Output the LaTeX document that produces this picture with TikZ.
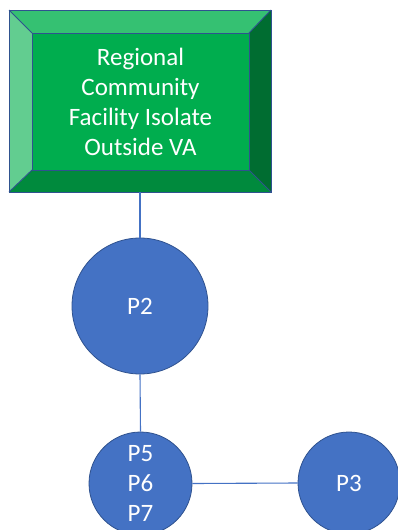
\documentclass[tikz,border=0pt]{standalone}
\usepackage{fontspec}
\setmainfont{Carlito}
\definecolor{gmid}{HTML}{00AD4E}
\definecolor{gtop}{HTML}{35C172}
\definecolor{gleft}{HTML}{62CD90}
\definecolor{gright}{HTML}{006D31}
\definecolor{gbot}{HTML}{008A3D}
\definecolor{edge}{HTML}{2F528F}
\definecolor{blu}{HTML}{4472C4}
\tikzset{
  txt/.style={text=white, font=\fontsize{25}{30}\selectfont, align=center},
  circ/.style={circle, fill=blu, draw=edge, line width=0.8pt, inner sep=0pt, txt},
  conn/.style={draw=blu, line width=1.1pt},
  bevel/.style={draw=edge, line width=0.9pt}
}
\begin{document}
\begin{tikzpicture}[x=1pt,y=-1pt]
\useasboundingbox (0,0) rectangle (397,530);
\node[minimum width=262pt, minimum height=182pt, inner sep=0pt] (outer) at (140,101) {};
\coordinate (o1) at (9,10);
\coordinate (o2) at (271,10);
\coordinate (o3) at (271,192);
\coordinate (o4) at (9,192);
\coordinate (i1) at (32,33);
\coordinate (i2) at (249,33);
\coordinate (i3) at (249,170);
\coordinate (i4) at (32,170);
\fill[gtop] (o1)--(o2)--(i2)--(i1)--cycle;
\fill[gright] (o2)--(o3)--(i3)--(i2)--cycle;
\fill[gbot] (o3)--(o4)--(i4)--(i3)--cycle;
\fill[gleft] (o4)--(o1)--(i1)--(i4)--cycle;
\draw[bevel] (o1)--(o2)--(o3)--(o4)--cycle;
\draw[bevel] (o1)--(i1) (o2)--(i2) (o3)--(i3) (o4)--(i4);
\node[txt, fill=gmid, bevel, minimum width=217pt, minimum height=137pt, inner sep=0pt] (reg) at (140.5,101.5)
  {Regional\\Community\\Facility Isolate\\Outside VA};
\node[circ, minimum size=136pt] (p2) at (140,306) {P2};
\node[circ, minimum size=103pt] (p567) at (140.5,483.5) {P5\\P6\\P7};
\node[circ, minimum size=102pt] (p3) at (349,483) {P3};
\draw[conn] (outer.south) -- (p2.north);
\draw[conn] (p2.south) -- (p567.north);
\draw[conn] (p567.east) -- (p3.west);
\end{tikzpicture}
\end{document}
